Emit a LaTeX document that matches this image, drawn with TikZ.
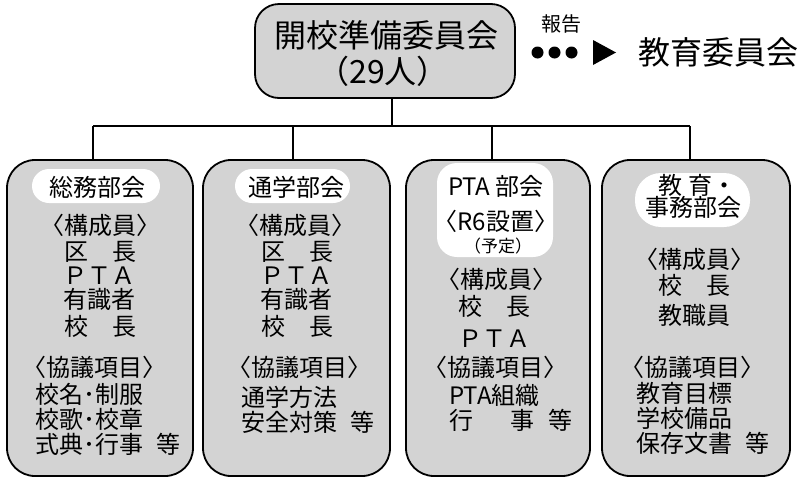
\documentclass[tikz,border=0pt]{standalone}
\usepackage{fontspec}
\newfontfamily\jp{Noto Sans CJK JP}
\definecolor{boxgray}{RGB}{211,211,211}
\begin{document}
\begin{tikzpicture}[x=1pt,y=-1pt,
  bigbox/.style={draw=black, line width=1.8pt, fill=boxgray, rounded corners=28pt, inner sep=0pt},
  topbox/.style={draw=black, line width=1.8pt, fill=boxgray, rounded corners=24pt, inner sep=0pt},
  tagbox/.style={fill=white, draw=none, inner sep=0pt},
  conn/.style={draw=black, line width=1.8pt},
  tx/.style={font=\jp\fontsize{24}{24}\selectfont, inner sep=0pt, text height=21pt, text depth=3pt},
  txbig/.style={font=\jp\fontsize{32}{32}\selectfont, inner sep=0pt, text height=28pt, text depth=4pt},
  txmid/.style={font=\jp\fontsize{20}{20}\selectfont, inner sep=0pt, text height=17.6pt, text depth=2.4pt},
  txsmall/.style={font=\jp\fontsize{17}{17}\selectfont, inner sep=0pt, text height=15pt, text depth=2pt},
  lw/.style={tx, anchor=west}
]
\useasboundingbox (0,0) rectangle (800,480);

% ---------- top box ----------
\node[topbox, minimum width=260pt, minimum height=94pt] (top) at (385,51) {};
\node[txbig] (topl1) at (386,35) {開校準備委員会};
\node[txbig] (topl2) at (383,71) {（29人）};

% report arrow
\node[txmid] (rep) at (561,24) {報告};
\fill (537.5,52.5) circle[radius=6pt];
\fill (554.5,52.5) circle[radius=6pt];
\fill (571.5,52.5) circle[radius=6pt];
\fill (593,40) -- (593,65) -- (616,52.5) -- cycle;
\node[txbig, anchor=west] (kyoiku) at (638,52) {教育委員会};

% ---------- four boxes ----------
\node[bigbox, minimum width=186pt, minimum height=316pt] (b1) at (100,318) {};
\node[bigbox, minimum width=187pt, minimum height=316pt] (b2) at (296.5,318) {};
\node[bigbox, minimum width=184pt, minimum height=316pt] (b3) at (498,318) {};
\node[bigbox, minimum width=188pt, minimum height=316pt] (b4) at (696,318) {};

% ---------- connectors ----------
\coordinate (bus) at (392,126);
\coordinate (d1) at (93,126);
\coordinate (d2) at (293,126);
\coordinate (d3) at (492,126);
\coordinate (d4) at (690,126);
\draw[conn] (bus |- top.south) -- (bus);
\draw[conn] (d1) -- (d4);
\draw[conn] (d1) -- (d1 |- b1.north);
\draw[conn] (d2) -- (d2 |- b2.north);
\draw[conn] (d3) -- (d3 |- b3.north);
\draw[conn] (d4) -- (d4 |- b4.north);

% ---------- box 1 ----------
\fill[white, rounded corners=17pt] (32,169) rectangle (160,203);
\node[tx] (t1) at (97,187) {総務部会};
\node[tx] (m1a) at (100,225) {〈構成員〉};
\node[tx] (m1b) at (100,251) {区　長};
\node[tx] (m1c) at (99,275) {ＰＴＡ};
\node[tx] (m1d) at (99,299) {有識者};
\node[tx] (m1e) at (100,326) {校　長};
\node[tx] (k1a) at (95,367) {〈協議項目〉};
\node[lw] (k1b) at (35,394) {校名･制服};
\node[lw] (k1c) at (35,419) {校歌･校章};
\node[lw] (k1d) at (35,444) {式典･行事\hspace{0.55em}等};

% ---------- box 2 ----------
\fill[white, rounded corners=17pt] (235,169) rectangle (350,203);
\node[tx] (t2) at (296,187) {通学部会};
\node[tx] (m2a) at (295,225) {〈構成員〉};
\node[tx] (m2b) at (297,251) {区　長};
\node[tx] (m2c) at (296,275) {ＰＴＡ};
\node[tx] (m2d) at (296,299) {有識者};
\node[tx] (m2e) at (297,326) {校　長};
\node[tx] (k2a) at (299,367) {〈協議項目〉};
\node[lw] (k2b) at (241,397) {通学方法};
\node[lw] (k2c) at (241,422) {安全対策\hspace{0.55em}等};

% ---------- box 3 ----------
\fill[white, rounded corners=20pt] (437,163) rectangle (553,257);
\node[tx] (t3a) at (496,186) {PTA 部会};
\node[tx] (t3b) at (496,221) {〈R6設置〉};
\node[txsmall] (t3c) at (498,246) {（予定）};
\node[tx] (m3a) at (496,279) {〈構成員〉};
\node[tx] (m3b) at (494,306) {校　長};
\node[tx] (m3c) at (494,338) {ＰＴＡ};
\node[tx] (k3a) at (495,367) {〈協議項目〉};
\node[lw] (k3b) at (449,395) {PTA組織};
\node[lw] (k3c) at (449,420) {行\hspace{1.55em}事\hspace{0.6em}等};

% ---------- box 4 ----------
\fill[white, rounded corners=26pt] (635,173) rectangle (750,227);
\node[tx] (t4a) at (697,185) {教\hspace{0.25em}育・};
\node[tx] (t4b) at (693,207) {事務部会};
\node[tx] (m4a) at (694,259) {〈構成員〉};
\node[tx] (m4b) at (694,285) {校　長};
\node[tx] (m4c) at (694,315) {教職員};
\node[tx] (k4a) at (692,367) {〈協議項目〉};
\node[lw] (k4b) at (636,393) {教育目標};
\node[lw] (k4c) at (636,418) {学校備品};
\node[lw] (k4d) at (636,443) {保存文書\hspace{0.55em}等};
\end{tikzpicture}
\end{document}
